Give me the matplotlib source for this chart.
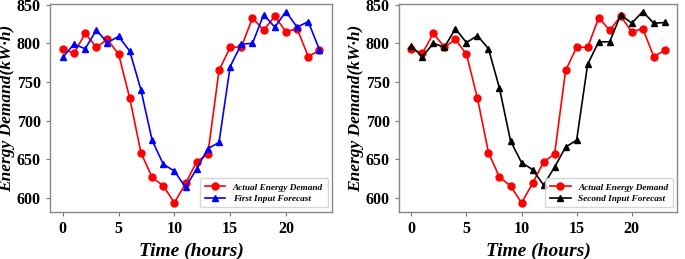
import matplotlib
import matplotlib.pyplot as plt
import numpy as np

matplotlib.use("Agg")

hours = np.arange(24)
actual = [793, 787, 813, 795, 805, 786, 729, 659, 627, 616, 594, 619,
          647, 657, 765, 795, 795, 833, 817, 835, 815, 819, 783, 791]
first_forecast = [782, 799, 793, 817, 801, 809, 790, 740, 675, 644, 635, 614,
                  638, 664, 672, 770, 799, 800, 837, 821, 841, 821, 828, 792]
second_forecast = [796, 783, 800, 795, 819, 801, 810, 793, 742, 674, 646, 637,
                   617, 640, 666, 675, 773, 802, 802, 837, 826, 841, 826, 827]

plt.rcParams["font.family"] = ["Liberation Serif", "DejaVu Serif"]
plt.rcParams["font.weight"] = "bold"

fig = plt.figure(figsize=(6.85, 2.59), dpi=100)
ax1 = fig.add_axes([0.073, 0.181, 0.412, 0.804])
ax2 = fig.add_axes([0.582, 0.181, 0.407, 0.804])

panels = [
    (ax1, first_forecast, "blue", "First Input Forecast"),
    (ax2, second_forecast, "black", "Second Input Forecast"),
]

for ax, forecast, color, label in panels:
    ax.plot(hours, actual, color="red", marker="o", markersize=5,
            linewidth=1.2, label="Actual Energy Demand")
    ax.plot(hours, forecast, color=color, marker="^", markersize=5,
            linewidth=1.2, label=label)
    ax.set_ylim(582, 851)
    ax.set_xticks([0, 5, 10, 15, 20])
    ax.set_yticks([600, 650, 700, 750, 800, 850])
    ax.tick_params(labelsize=11.5, length=3, color="#777777")
    for lbl in ax.get_xticklabels() + ax.get_yticklabels():
        lbl.set_fontweight("bold")
    for spine in ax.spines.values():
        spine.set_color("#888888")
        spine.set_linewidth(1.0)
    ax.set_xlabel("Time (hours)", fontsize=14, fontweight="bold",
                  fontstyle="italic", labelpad=4)
    ax.set_ylabel("Energy Demand(kW\u00b7h)", fontsize=12.5, fontweight="bold",
                  fontstyle="italic", labelpad=1)
    ax.legend(loc="lower right", prop={"size": 6.7, "weight": "bold",
                                       "style": "italic"},
              handlelength=2.2, borderpad=0.5, labelspacing=0.3)

fig.savefig("out.png", dpi=100)
